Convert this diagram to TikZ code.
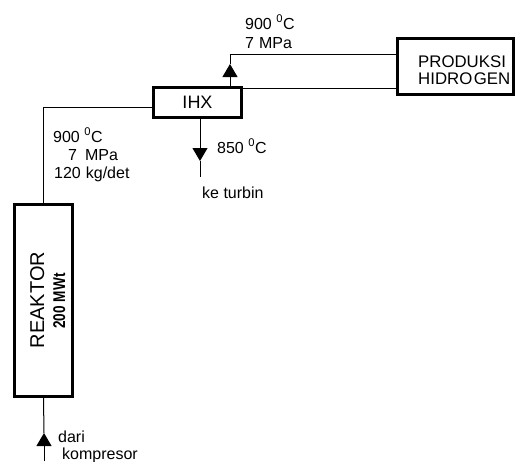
\documentclass[tikz,border=0pt]{standalone}
\usepackage{fontspec}
\setmainfont{Liberation Sans}
\usetikzlibrary{arrows.meta}
\begin{document}
\begin{tikzpicture}[x=1pt,y=-1pt,
  box/.style={draw,line width=2.6pt,inner sep=0pt},
  conn/.style={line width=1pt},
  tipped/.style={line width=1pt,-{Triangle[width=15pt,length=13pt]}},
  lbl/.style={font=\fontsize{16}{18}\selectfont,anchor=base west,inner sep=0pt}]
\useasboundingbox (0,0) rectangle (517,461);
% boxes
\node[box,minimum width=88.5pt,minimum height=30.5pt,font=\fontsize{18}{20}\selectfont] (ihx) at (197.5,102.5) {IHX};
\node[box,minimum width=116.5pt,minimum height=56.5pt] (prod) at (455.5,66.5) {};
\node[box,minimum width=58.5pt,minimum height=192.5pt] (reak) at (43.5,300.5) {};
% box texts
\node[anchor=base west,inner sep=0pt,font=\fontsize{16.8}{19}\selectfont] (prodt1) at (418,67) {PRODUKSI};
\node[anchor=base west,inner sep=0pt,font=\fontsize{16.8}{19}\selectfont] (prodt2) at (418,84) {HIDRO\hspace{1.5pt}GEN};
\node[rotate=90,anchor=base,inner sep=0pt,font=\fontsize{20}{22}\selectfont] (reakt1) at (44,300) {REAKTOR};
\node[rotate=90,anchor=base,inner sep=0pt,font=\fontsize{17}{19}\selectfont\bfseries] (reakt2) at (65,301) {\scalebox{0.8}[1]{200 MWt}};
% coordinates
\coordinate (c1) at (44,107);
\coordinate (turbtip) at (200,161);
\coordinate (turb) at (200,177);
\coordinate (uptip) at (230,64);
\coordinate (upcorner) at (230,54);
\coordinate (low) at (0,88);
\coordinate (komp) at (44,461);
\coordinate (komptip) at (44,433);
% connectors
\draw[conn] (reak.north) |- (ihx.west |- c1);
\draw[tipped] (ihx.south -| turb) -- (turbtip);
\draw[conn] (turbtip) -- (turb);
\draw[tipped] (ihx.north -| uptip) -- (uptip);
\draw[conn] (uptip) -- (upcorner) -- (prod.west |- upcorner);
\draw[conn] (ihx.east |- low) -- (prod.west |- low);
\draw[tipped] (komp) -- (komptip);
\draw[conn] (komptip) -- (reak.south);
% labels
\node[lbl] (l1) at (53,142) {900 \textsuperscript{0}C};
\node[lbl] (l2) at (68,160) {7\hspace{8pt}MPa};
\node[lbl] (l3) at (54,178) {120\hspace{5pt}kg/det};
\node[lbl] (t1) at (245,29) {900 \textsuperscript{0}C};
\node[lbl] (t2) at (245,48) {7\hspace{5pt}MPa};
\node[lbl] (d1) at (217,153) {850 \textsuperscript{0}C};
\node[lbl] (d2) at (202,198) {ke turbin};
\node[lbl] (k1) at (58,442) {dari};
\node[lbl] (k2) at (62,459) {kompresor};
\end{tikzpicture}
\end{document}
